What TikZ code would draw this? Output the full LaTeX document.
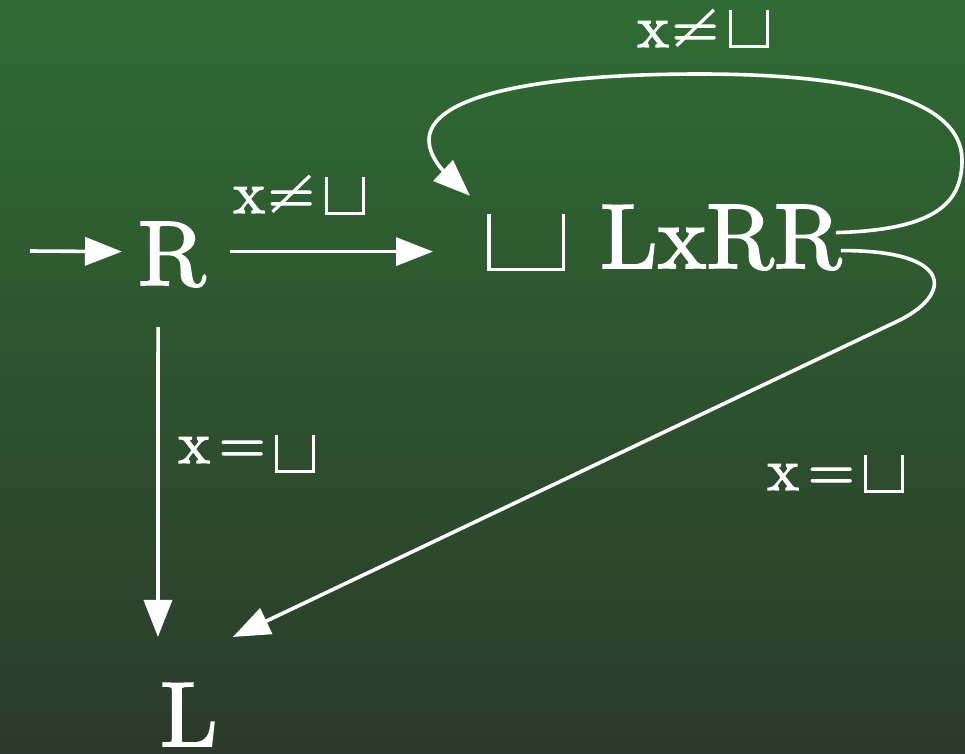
\RequirePackage{fix-cm}
\documentclass[tikz,border=0pt]{standalone}
\usepackage{fontspec}
\usepackage{graphicx}
\newfontfamily\mainf{lmroman10-regular}[Extension=.otf,FakeBold=2]
\usetikzlibrary{arrows.meta,calc}
\definecolor{bgtop}{RGB}{47,108,51}
\definecolor{bgbot}{RGB}{43,58,42}
% open box: inner width, height, thickness, depth
\newcommand\ublank[4]{\raisebox{-#4}{\hbox{\vrule width #3 height #2 depth 0pt\vbox to #2{\vfil\hrule width #1 height #3 depth 0pt}\vrule width #3 height #2 depth 0pt}}}
% not-equal sign with a long slash
\newcommand\nequ{\ooalign{\hfil=\hfil\cr\hidewidth\rotatebox{44}{\rule{52pt}{3.2pt}}\hidewidth}}
\begin{document}
\begin{tikzpicture}[x=1pt,y=-1pt,
  main/.style={text=white,inner sep=0pt,font=\mainf\fontsize{92}{92}\selectfont},
  lbl/.style={text=white,inner sep=0pt,font=\mainf\fontsize{60}{60}\selectfont},
  arr/.style={draw=white,line width=3.6pt,-{Triangle[length=37pt,width=28pt]}}]
\useasboundingbox (0,0) rectangle (965,753);
\shade[top color=bgtop,bottom color=bgbot] (0,0) rectangle (965,753);
% nodes
\node[main,anchor=base west] (R) at (138,285) {R};
\node[main,anchor=base west] (blk) at (487,268) {\ublank{71pt}{57pt}{3.5pt}{3pt}};
\node[main,anchor=base west] (lx) at (600,268) {LxRR};
\node[main,anchor=base west] (L) at (160,746) {L};
% labels
\node[lbl,anchor=base west] (t1) at (233,213) {x\hspace{3pt}\nequ\hspace{10pt}\ublank{34pt}{38pt}{3pt}{2pt}};
\node[lbl,anchor=base west] (t2) at (637,47) {x\hspace{3pt}\nequ\hspace{10pt}\ublank{34pt}{38pt}{3pt}{1pt}};
\node[lbl,anchor=base west] (t3) at (178,463) {x\hspace{9pt}=\hspace{9pt}\ublank{34pt}{38pt}{3pt}{10pt}};
\node[lbl,anchor=base west] (t4) at (767,490) {x\hspace{9pt}=\hspace{9pt}\ublank{34pt}{38pt}{3pt}{3pt}};
% connectors
\coordinate (in) at (30,251);
\draw[arr] (in) -- ($(R.west)+(-16,-3)$);
\draw[arr] ($(R.east)+(24,-3)$) -- ($(R.east -| blk.west)+(-54,-3)$);
\draw[arr] ($(R.south)+(-14,40)$) -- ($(L.north)+(-31,-46)$);
\draw[arr] ($(lx.east)+(-6,-5)$) .. controls (940,230) and (962,200) .. (962,160)
  .. controls (962,100) and (860,74) .. (700,74)
  .. controls (520,74) and (429,100) .. (429,140)
  .. controls (429,160) and (450,177) .. ($(blk.north west)+(-17,-18)$);
\draw[arr] ($(lx.east)+(-1,13)$) .. controls (950,250) and (955,292) .. (900,320)
  -- ($(L.north east)+(15,-46)$);
\end{tikzpicture}
\end{document}
